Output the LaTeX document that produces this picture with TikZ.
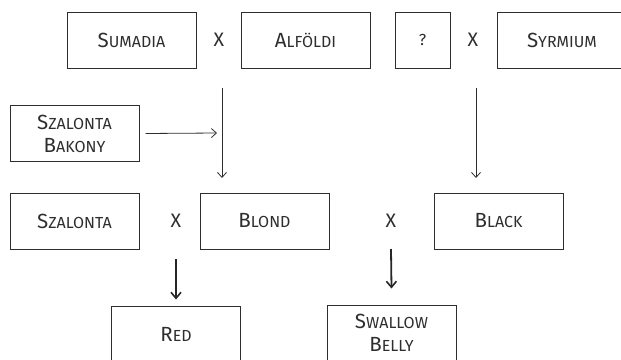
\documentclass[tikz,border=0pt]{standalone}
\usepackage{fontspec}
\setmainfont{Fira Sans}
\usetikzlibrary{arrows.meta}

\definecolor{inkgray}{HTML}{2E2E2E}
\newcommand\fakesc[2]{{\fontsize{20.5}{20}\selectfont #1}{\fontsize{16}{20}\selectfont #2}}

\tikzset{
  breedbox/.style={draw=inkgray, line width=1pt, text=inkgray, minimum width=129pt,
    minimum height=56pt, inner sep=0pt, align=center, font=\fontsize{16}{23}\selectfont},
  crossmark/.style={text=inkgray, font=\fontsize{19.5}{20}\selectfont},
  thinarrow/.style={draw=inkgray, line width=0.8pt, -{Straight Barb[length=5pt,width=9pt]}},
  thickarrow/.style={draw=black!85, line width=1.8pt, -{Straight Barb[length=6pt,width=10pt,line width=1.6pt]}}
}

\begin{document}
\begin{tikzpicture}[x=1pt,y=-1pt]
\useasboundingbox (0,0) rectangle (621,359);
\clip (0,0) rectangle (621,359);

% parents
\node[breedbox] (sumadia) at (131.5,40) {\fakesc{S}{UMADIA}};
\node[crossmark] (x1) at (219,40) {X};
\node[breedbox] (alfoldi) at (305.5,40) {\fakesc{A}{LFÖLDI}};
\node[breedbox,minimum width=55pt] (unknown) at (422.5,40) {?};
\node[crossmark] (x2) at (473,40) {X};
\node[breedbox] (syrmium) at (562,40) {\fakesc{S}{YRMIUM}};

\node[breedbox] (bakony) at (74.5,133.5) {\fakesc{S}{ZALONTA}\\\fakesc{B}{AKONY}};

% second row
\node[breedbox] (szalonta) at (74.5,221) {\fakesc{S}{ZALONTA}};
\node[crossmark] (x3) at (176,221) {X};
\node[breedbox] (blond) at (264.5,221) {\fakesc{B}{LOND}};
\node[crossmark] (x4) at (391,221) {X};
\node[breedbox] (black) at (498.5,221) {\fakesc{B}{LACK}};

% offspring
\node[breedbox] (red) at (176,334) {\fakesc{R}{ED}};
\node[breedbox] (swallow) at (391.5,333) {\fakesc{S}{WALLOW}\\\fakesc{B}{ELLY}};

\coordinate (blondtop) at (222,88);
\coordinate (blondend) at (222,178);
\coordinate (blacktop) at (476,88);
\coordinate (blackend) at (476,178);
\coordinate (joinpt) at (217,133);
\coordinate (redtop) at (176,259);
\coordinate (swallowtop) at (391,249);

\draw[thinarrow] (blondtop) -- (blondend);
\draw[thinarrow] (blacktop) -- (blackend);
\draw[thinarrow] ([xshift=6pt]bakony.east) -- (joinpt);
\draw[thickarrow] (redtop) -- ([yshift=6pt]red.north);
\draw[thickarrow] (swallowtop) -- ([yshift=16pt]swallow.north);
\end{tikzpicture}
\end{document}
